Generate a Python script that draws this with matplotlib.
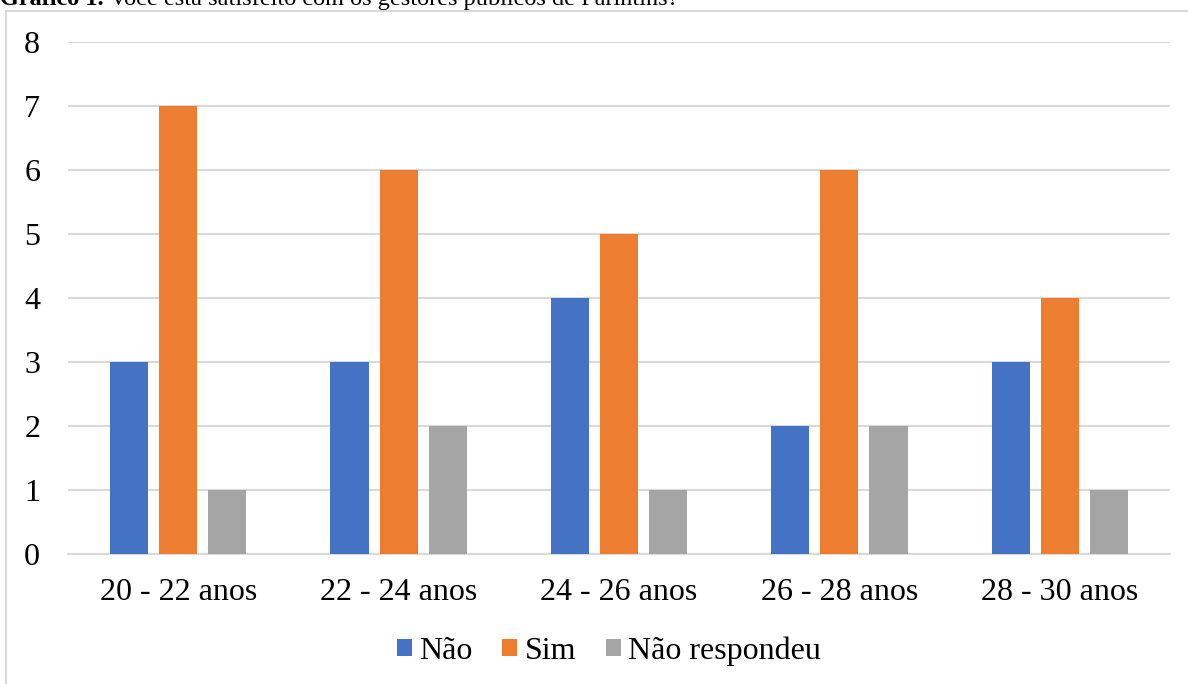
import matplotlib.pyplot as plt
import numpy as np
from matplotlib.patches import Rectangle

plt.rcParams['font.family'] = ['Liberation Serif', 'DejaVu Serif']

# Faixas etárias e respostas
faixas = ["20 - 22 anos", "22 - 24 anos", "24 - 26 anos", "26 - 28 anos", "28 - 30 anos"]
nao = [3, 3, 4, 2, 3]
sim = [7, 6, 5, 6, 4]
nao_respondeu = [1, 2, 1, 2, 1]

series = [("Não", nao, "#4472c4"),
          ("Sim", sim, "#ed7d31"),
          ("Não respondeu", nao_respondeu, "#a5a5a5")]

fig = plt.figure(figsize=(11.88, 6.84), dpi=100)
ax = fig.add_axes([68 / 1188, 1 - 554 / 684, 1102 / 1188, 512 / 684])

# Moldura do gráfico
fig.patches.append(Rectangle((6 / 1188, -0.1), 1.2, 1 - 11 / 684 + 0.1,
                             transform=fig.transFigure, fill=False,
                             edgecolor="#d9d9d9", linewidth=1.5))

x = np.arange(len(faixas))
largura = 0.173
passo = 0.223
for i, (nome, valores, cor) in enumerate(series):
    ax.bar(x + (i - 1) * passo, valores, width=largura, color=cor, label=nome, zorder=3)

ax.set_xlim(-0.5, len(faixas) - 0.5)
ax.set_ylim(0, 8)
ax.set_yticks(range(9))
ax.yaxis.grid(True, color="#d9d9d9", linewidth=1.5, zorder=0)
ax.set_xticks(x)
ax.set_xticklabels(faixas)
ax.tick_params(axis="both", length=0, labelsize=23)
ax.tick_params(axis="y", pad=20)
ax.tick_params(axis="x", pad=17)
for s in ["top", "right", "left"]:
    ax.spines[s].set_visible(False)
ax.spines["bottom"].set_color("#d9d9d9")
ax.spines["bottom"].set_linewidth(1.5)

ax.legend(loc="center", bbox_to_anchor=(0.5 - 10 / 1102, -0.19), ncol=3, frameon=False,
          fontsize=23, handlelength=0.47, handleheight=0.47, handletextpad=0.22,
          columnspacing=0.94)

# Título (parcialmente cortado no topo)
y_tit = 1 - 5 / 684
t1 = fig.text(0.0, y_tit, "Gráfico 1.", fontsize=17.5, fontweight="bold", va="baseline")
fig.canvas.draw()
x_fim = t1.get_window_extent().x1 / fig.bbox.width
fig.text(x_fim, y_tit,
         " Você está satisfeito com os gestores públicos de Parintins?",
         fontsize=17.5, va="baseline")

fig.savefig("out.png", dpi=100)
